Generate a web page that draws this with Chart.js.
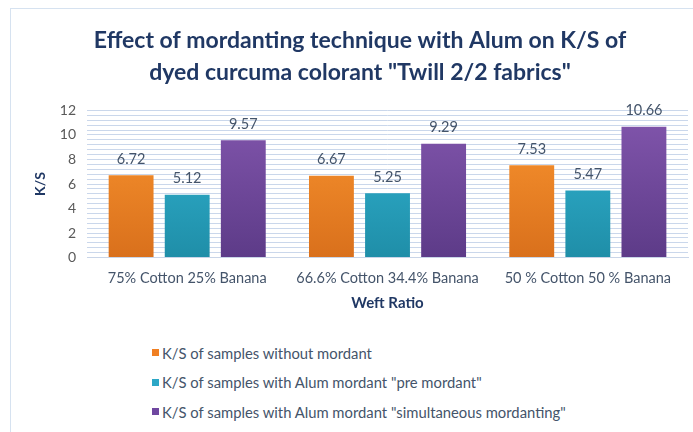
<!DOCTYPE html>
<html>
<head>
<meta charset="utf-8">
<script src="https://cdn.jsdelivr.net/npm/chart.js@4.4.1/dist/chart.umd.min.js"></script>
<style>
  body { margin: 0; background: #fff; }
  #wrap { position: relative; width: 693px; height: 432px; overflow: hidden; }
  #frame { position: absolute; left: 10px; top: 8px; width: 700px; height: 440px;
           border-left: 1px solid #d6e2f0; border-top: 1px solid #d6e2f0; }
  #chartBox { position: absolute; left: 0; top: 0; width: 693px; height: 330px; }
  #legend { position: absolute; left: 152px; top: 338px; font-family: Lato, sans-serif;
            font-size: 14.8px; color: #44546a; }
  #legend div { height: 29.5px; display: flex; align-items: center; }
  #legend span.box { display: inline-block; width: 7px; height: 7px; margin-right: 3px; }
</style>
</head>
<body>
<div id="wrap">
  <div id="frame"></div>
  <div id="chartBox"><canvas id="ksChart"></canvas></div>
  <div id="legend"></div>
</div>
<script>
const categories = ['75% Cotton 25% Banana', '66.6% Cotton 34.4% Banana', '50 % Cotton 50 % Banana'];
const seriesNames = [
  'K/S of samples without mordant',
  'K/S of samples with Alum mordant "pre mordant"',
  'K/S of samples with Alum mordant "simultaneous mordanting"'
];
const withoutMordant = [6.72, 6.67, 7.53];
const preMordant = [5.12, 5.25, 5.47];
const simultaneous = [9.57, 9.29, 10.66];
const yTicks = [0, 2, 4, 6, 8, 10, 12];

const topColors = ['#fb9630', '#33b6d4', '#8256ad'];
const bottomColors = ['#d9701c', '#1f8ea8', '#5d3b88'];
const legendColors = ['#f07f22', '#2ca7c6', '#6f47a0'];

function barGradient(i) {
  return (ctx) => {
    const chart = ctx.chart;
    const area = chart.chartArea;
    if (!area) return topColors[i];
    const g = chart.ctx.createLinearGradient(0, area.bottom, 0, area.top);
    g.addColorStop(0, bottomColors[i]);
    g.addColorStop(1, topColors[i]);
    return g;
  };
}

// value labels above bars
const valueLabels = {
  id: 'valueLabels',
  afterDatasetsDraw(chart) {
    const ctx = chart.ctx;
    ctx.save();
    ctx.font = '14.5px Lato, sans-serif';
    ctx.fillStyle = '#44546a';
    ctx.textAlign = 'center';
    ctx.textBaseline = 'bottom';
    chart.data.datasets.forEach((ds, i) => {
      chart.getDatasetMeta(i).data.forEach((bar, j) => {
        ctx.fillText(ds.data[j].toFixed(2), bar.x, bar.y - 9);
      });
    });
    ctx.restore();
  }
};

const seriesData = [withoutMordant, preMordant, simultaneous];

const chart = new Chart(document.getElementById('ksChart'), {
  type: 'bar',
  data: {
    labels: categories,
    datasets: seriesData.map((d, i) => ({
      label: seriesNames[i],
      data: d,
      backgroundColor: barGradient(i),
      borderWidth: 0,
      categoryPercentage: 0.84,
      barPercentage: 0.8
    }))
  },
  options: {
    responsive: true,
    maintainAspectRatio: false,
    animation: false,
    layout: { padding: { left: 32, right: 5, top: 24, bottom: 14 } },
    plugins: {
      legend: { display: false },
      tooltip: { enabled: false },
      title: {
        display: true,
        text: ['Effect of mordanting technique with Alum on K/S of', 'dyed curcuma colorant "Twill 2/2 fabrics"'],
        color: '#203864',
        font: { family: 'Lato, sans-serif', size: 23, weight: 'bold', lineHeight: 1.4 },
        padding: { top: 0, bottom: 22 }
      }
    },
    scales: {
      x: {
        grid: { display: false },
        border: { color: '#c9d5e8' },
        ticks: { color: '#44546a', font: { family: 'Lato, sans-serif', size: 14.5 }, padding: 4 },
        title: {
          display: true, text: 'Weft Ratio', color: '#203864',
          font: { family: 'Lato, sans-serif', size: 15, weight: 'bold' }, padding: { top: 3 }
        }
      },
      y: {
        min: 0, max: 12,
        border: { display: false },
        grid: { color: 'rgba(184,201,228,0.75)', lineWidth: 1, drawTicks: false },
        ticks: {
          stepSize: 0.4, autoSkip: false, color: '#595959', padding: 11,
          font: { family: 'Lato, sans-serif', size: 14 },
          callback: (v) => yTicks.includes(Math.round(v * 10) / 10) ? v : ''
        },
        title: {
          display: true, text: 'K/S', color: '#203864',
          font: { family: 'Lato, sans-serif', size: 14, weight: 'bold' }, padding: { top: 0, bottom: 0 }
        }
      }
    }
  },
  plugins: [valueLabels]
});

const legendEl = document.getElementById('legend');
seriesNames.forEach((name, i) => {
  const row = document.createElement('div');
  const box = document.createElement('span');
  box.className = 'box';
  box.style.background = legendColors[i];
  row.appendChild(box);
  row.appendChild(document.createTextNode(name));
  legendEl.appendChild(row);
});
</script>
</body>
</html>
